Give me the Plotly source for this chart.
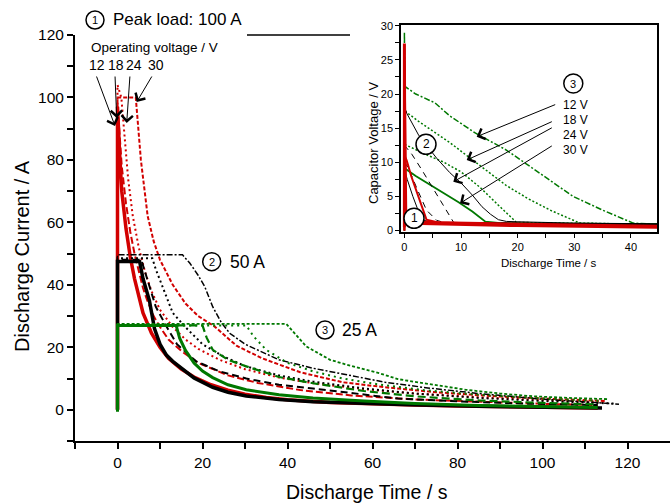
import plotly.graph_objects as go

# ---------------- main plot data (discharge current vs time) ----------------
# Peak load 100 A (red)
t_r12 = [0, 0, 0.5, 1, 2, 3, 4, 5, 6, 8, 10, 12, 15, 18, 22, 26, 30, 35, 40, 50, 60, 70, 80, 90, 100, 113]
i_r12 = [0, 97, 82, 70, 58, 49, 42, 36, 31, 24.5, 20, 16.5, 13, 10.5, 8, 6.3, 5, 3.9, 3.2, 2.3, 1.8, 1.5, 1.2, 1.0, 0.8, 0.6]
t_r18 = [0, 0, 0.5, 1, 2, 3, 4, 5, 6, 7, 8.5, 10, 12, 15.3, 19, 26, 33, 43, 55, 70, 85, 100, 113]
i_r18 = [0, 98, 88, 78, 66, 57, 50, 44, 39, 35, 30, 26.5, 22.5, 18.5, 15, 11, 8.6, 6.3, 4.6, 3.3, 2.5, 1.9, 1.5]
t_r24 = [0, 0, 0.9, 1.5, 2.5, 3.6, 5, 6.5, 8, 10, 13, 16, 19, 24, 30, 38, 46, 58, 70, 85, 100, 115]
i_r24 = [0, 104, 100, 90, 74, 62, 52, 44, 38, 32, 26.5, 22.5, 19.5, 16, 13, 10.3, 8.5, 6.6, 5.2, 4.0, 3.1, 2.5]
t_r30 = [0, 0, 4.3, 5.5, 7.1, 8.5, 10, 13, 16, 19, 22.8, 28, 34, 43, 53, 63, 75, 88, 100, 115]
i_r30 = [0, 100, 100, 80, 62, 54, 48, 40, 34, 30, 26.7, 20.5, 16.5, 12, 8.8, 7.2, 5.6, 4.4, 3.6, 2.8]

# Peak load 50 A (black)
t_b12 = [0, 0, 5.2, 6, 7.5, 8.7, 10, 11.5, 13, 14.6, 18, 22.4, 26, 30.3, 38, 46, 58, 69, 85, 100, 114]
i_b12 = [0, 47.5, 47.5, 42, 35, 26, 21, 17.5, 15.5, 13.8, 10.2, 7.2, 5.6, 4.4, 3.3, 2.6, 2.0, 1.6, 1.1, 0.8, 0.6]
t_b18 = [0, 0, 5.6, 7, 9, 11.5, 14, 18.5, 24, 30.3, 38, 46, 58, 66, 80, 95, 113]
i_b18 = [0, 48, 48, 42, 33, 26.7, 21, 15.5, 12.3, 10, 8, 6.8, 4.8, 3.6, 2.7, 2.0, 1.5]
t_b24 = [0, 0, 8.2, 9, 11, 13, 15.8, 20, 25, 30, 38, 46, 58, 70, 85, 100, 117]
i_b24 = [0, 48.5, 48.5, 45, 38, 31, 26.7, 21, 17, 14, 11, 9, 6.8, 5.2, 3.8, 2.8, 2.0]
t_b30 = [0, 0, 15.3, 17, 19, 20.5, 22.4, 24.4, 26.4, 30, 38, 46, 54, 63, 73, 85, 100, 113, 118]
i_b30 = [0, 49.6, 49.6, 47, 43, 39.5, 33, 28, 24.5, 21, 16, 13.3, 11.2, 8.8, 7, 5.2, 3.4, 2.1, 1.8]

# Peak load 25 A (green)
t_g12 = [0, 0, 13.8, 14.6, 16, 18, 20, 22.4, 26, 30.3, 38, 46, 58, 70, 85, 100, 113]
i_g12 = [-0.6, 27, 27, 23, 19, 15, 12.4, 10.3, 8, 6.4, 4.8, 3.8, 2.8, 2.0, 1.4, 1.0, 0.7]
t_g18 = [0, 0, 20, 21, 22.4, 26, 30.3, 38, 46, 58, 70, 85, 100, 113]
i_g18 = [0, 27, 27, 23, 19.2, 16, 13.9, 10.5, 8.5, 6, 4.3, 3.0, 2.2, 1.7]
t_g24 = [0, 0, 30.3, 32, 35, 40, 46, 53, 62, 72, 85, 100, 114]
i_g24 = [0, 27, 27, 23.5, 19.2, 15, 12.3, 10, 8, 6.3, 4.8, 3.6, 2.8]
t_g30 = [0, 0, 39.7, 42, 44.4, 50, 54, 61.6, 66, 73, 82, 90, 98, 106, 115.5]
i_g30 = [0, 27.5, 27.5, 24, 20.3, 16, 14.4, 11.7, 9.8, 8.3, 6.4, 5.2, 4.3, 3.8, 3.4]

# ---------------- inset data (capacitor voltage vs time) ----------------
ti_g30 = [0, 0, 0.1, 2, 5.4, 8, 12.5, 18, 24, 29.8, 35, 40.4, 45]
vi_g30 = [0, 29.1, 21.1, 20.0, 18.7, 16.8, 14.3, 11.8, 8.4, 5.0, 3.0, 1.1, 0.9]
ti_g24 = [0, 0.1, 2.5, 5.5, 8, 11, 14.5, 18, 22, 26, 31, 45]
vi_g24 = [21, 17.5, 16, 14.3, 12.9, 11, 8.8, 6.6, 4.6, 2.9, 1.1, 0.9]
ti_g18 = [0, 0.1, 4.2, 7, 10, 13.4, 16.5, 19.8, 45]
vi_g18 = [15, 12.6, 11.0, 10, 8.6, 6.3, 3.8, 1.2, 0.9]
ti_g12 = [0, 0.1, 2, 4.2, 7, 9.5, 12, 14.3, 17, 45]
vi_g12 = [12, 9.1, 8.0, 6.9, 5.5, 4.2, 2.8, 1.3, 1.1, 0.9]

ti_b30 = [0, 0, 0.4, 2.5, 5.7, 8, 10.1, 12, 13.7, 15.2, 16.6, 18, 19.8, 30, 45]
vi_b30 = [0, 18.2, 17.2, 14.0, 10.6, 8.5, 6.9, 5.2, 3.5, 2.4, 1.6, 1.35, 1.3, 1.1, 1.0]
ti_b24 = [0, 1.3, 3, 5, 7, 8.7, 10, 45]
vi_b24 = [12.5, 11.2, 9, 6.2, 3.4, 1.2, 1.1, 0.9]
ti_b18 = [0, 0.7, 2.3, 3.9, 5.7, 7, 45]
vi_b18 = [10, 9.2, 6, 3, 1.5, 1.2, 0.9]
ti_b12 = [0, 0.5, 1.5, 2.5, 3.5, 5, 45]
vi_b12 = [9, 7.5, 5, 2.8, 1.5, 1.2, 0.9]

ti_r24 = [0, 0, 0.3, 3, 20, 45]
vi_r24 = [0, 24, 1.5, 1.0, 0.7, 0.45]
ti_r18 = [0, 0.4, 1.2, 2.2, 3.0, 3.9, 6, 15, 30, 45]
vi_r18 = [11, 10.3, 8, 5.6, 3.5, 1.6, 1.2, 1.0, 0.8, 0.6]
ti_r12 = [0, 0, 0.1, 0.5, 2, 6, 15, 25, 35, 45]
vi_r12 = [0.5, 27.4, 2.0, 1.4, 1.25, 1.15, 1.0, 0.85, 0.75, 0.65]

main_xticks = [-10, 0, 10, 20, 30, 40, 50, 60, 70, 80, 90, 100, 110, 120]
main_yticks = [-10, 0, 10, 20, 30, 40, 50, 60, 70, 80, 90, 100, 110, 120]
inset_xticks = [0, 5, 10, 15, 20, 25, 30, 35, 40]
inset_yticks = [0, 2.5, 5, 7.5, 10, 12.5, 15, 17.5, 20, 22.5, 25, 27.5, 30]

RED = "#D20000"
BLACK = "#000000"
GREEN = "#007800"
FONT = "Liberation Sans, Arial, sans-serif"

fig = go.Figure()

def add(x, y, color, width, dash, xa="x", ya="y"):
    fig.add_trace(go.Scatter(x=x, y=y, mode="lines", xaxis=xa, yaxis=ya,
                             line=dict(color=color, width=width, dash=dash),
                             hoverinfo="skip", showlegend=False))

# main: red, then black, then green
add(t_r30, i_r30, RED, 2, "4px,2px")
add(t_r24, i_r24, RED, 2, "2px,3px")
add(t_r18, i_r18, RED, 2, "7px,3px")
add(t_r12, i_r12, RED, 3.5, "solid")
add(t_b30, i_b30, BLACK, 1.5, "6px,2px,2px,2px")
add(t_b24, i_b24, BLACK, 2, "2px,3px")
add(t_b18, i_b18, BLACK, 2, "7px,4px")
add(t_b12, i_b12, BLACK, 3.5, "solid")
add(t_g30, i_g30, GREEN, 1.8, "3px,2px")
add(t_g24, i_g24, GREEN, 2, "2px,4px")
add(t_g18, i_g18, GREEN, 2.2, "8px,4px")
add(t_g12, i_g12, GREEN, 3, "solid")

# inset
add(ti_g30, vi_g30, GREEN, 1.5, "6px,2px,2px,2px", "x2", "y2")
add(ti_g24, vi_g24, GREEN, 1.5, "2px,2px", "x2", "y2")
add(ti_g18, vi_g18, GREEN, 1.5, "2px,2px", "x2", "y2")
add(ti_g12, vi_g12, GREEN, 1.8, "solid", "x2", "y2")
add(ti_b30, vi_b30, BLACK, 1, "solid", "x2", "y2")
add(ti_b24, vi_b24, BLACK, 1, "6px,5px", "x2", "y2")
add(ti_b18, vi_b18, BLACK, 1, "6px,5px", "x2", "y2")
add(ti_b12, vi_b12, BLACK, 1, "solid", "x2", "y2")
add(ti_r24, vi_r24, RED, 2.5, "solid", "x2", "y2")
add(ti_r18, vi_r18, RED, 2, "solid", "x2", "y2")
add(ti_r12, vi_r12, RED, 3, "solid", "x2", "y2")

# pixel -> paper helpers for decorations
L, T, W, H = 75, 25, 595, 416
def px(v):
    return (v - L) / W
def py(v):
    return (T + H - v) / H

shapes = []
annotations = []

def circle(cx, cy, r, num, size=12):
    shapes.append(dict(type="circle", xref="paper", yref="paper",
                       xsizemode="pixel", ysizemode="pixel",
                       xanchor=px(cx), yanchor=py(cy),
                       x0=-r, x1=r, y0=-r, y1=r,
                       line=dict(color="black", width=1.5), fillcolor="white"))
    annotations.append(dict(x=px(cx), y=py(cy), xref="paper", yref="paper",
                            text=num, showarrow=False, xanchor="center", yanchor="middle",
                            font=dict(family=FONT, size=size, color="black")))

def text(cx, cy, s, size, xanchor="center", angle=0):
    annotations.append(dict(x=px(cx), y=py(cy), xref="paper", yref="paper",
                            text=s, showarrow=False, xanchor=xanchor, yanchor="middle",
                            textangle=angle,
                            font=dict(family=FONT, size=size, color="black")))

def arrow(x0, y0, x1, y1):
    annotations.append(dict(x=px(x1), y=py(y1), xref="paper", yref="paper",
                            ax=x0 - x1, ay=y0 - y1, text="", showarrow=True,
                            arrowhead=4, arrowsize=2.2, arrowwidth=1,
                            arrowcolor="black", standoff=0, startstandoff=0))

# top frame fragment
shapes.append(dict(type="line", xref="paper", yref="paper",
                   x0=px(247), x1=px(350), y0=py(35), y1=py(35),
                   line=dict(color="black", width=1.5)))

# main annotations
circle(95, 20, 9, "1", 11)
text(111, 20, "Peak load: 100 A", 17, xanchor="left")
text(89, 47, "Operating voltage / V", 13.5, xanchor="left")
for cx, lab in [(96.5, "12"), (116, "18"), (133.5, "24"), (156, "30")]:
    text(cx, 65, lab, 14)
arrow(96, 75, 115, 126)
arrow(115, 75, 116.7, 118)
arrow(130, 75, 126.7, 123)
arrow(152.7, 75, 136.7, 102)
circle(211.7, 261.7, 9, "2", 11)
text(228, 262, "50 A", 17.5, xanchor="left")
circle(325, 330, 9, "3", 11)
text(340, 330, "25 A", 17.5, xanchor="left")

# inset annotations
circle(573.3, 83.5, 9.5, "3", 11)
for cy, lab in [(104.5, "12 V"), (119.5, "18 V"), (134.5, "24 V"), (149.5, "30 V")]:
    text(575.5, cy, lab, 12)
arrow(556.7, 104, 476.7, 136.7)
arrow(553.3, 121, 466.7, 160)
arrow(553.3, 127, 453.3, 181.7)
arrow(553.3, 145, 460, 203.3)
circle(426, 144.3, 10, "2", 12)
circle(414, 218.3, 10, "1", 12)

# axis titles
text(367, 492, "Discharge Time / s", 19.5)
text(22, 256, "Discharge Current / A", 20, angle=-90)
text(548, 263, "Discharge Time / s", 11.5)
text(373, 143, "Capacitor Voltage / V", 13, angle=-90)

fig.update_layout(
    width=670, height=504,
    margin=dict(l=L, r=0, t=T, b=504 - T - H, pad=0),
    paper_bgcolor="white", plot_bgcolor="white",
    showlegend=False,
    shapes=shapes, annotations=annotations,
    xaxis=dict(domain=[0, 1], range=[-10, 130], showline=True, linecolor="black",
               linewidth=2, ticks="outside", ticklen=6, tickwidth=1.5, tickcolor="black",
               tickmode="array", tickvals=main_xticks,
               ticktext=[str(v) if v % 20 == 0 and v >= 0 else "" for v in main_xticks],
               tickfont=dict(family=FONT, size=15.5, color="black"),
               showgrid=False, zeroline=False, anchor="y"),
    yaxis=dict(domain=[0, 406 / 416], range=[-10, 120], showline=True, linecolor="black",
               linewidth=2, ticks="outside", ticklen=6, tickwidth=1.5, tickcolor="black",
               tickmode="array", tickvals=main_yticks,
               ticktext=[str(v) if v % 20 == 0 and v >= 0 else "" for v in main_yticks],
               tickfont=dict(family=FONT, size=15.5, color="black"),
               showgrid=False, zeroline=False, anchor="x"),
    xaxis2=dict(domain=[px(401), px(657)], range=[-0.6, 44.6], anchor="y2",
                showline=True, mirror=True, linecolor="black", linewidth=1.5,
                ticks="outside", ticklen=4, tickwidth=1, tickcolor="black",
                tickmode="array", tickvals=inset_xticks,
                ticktext=[str(v) if v % 10 == 0 else "" for v in inset_xticks],
                tickfont=dict(family=FONT, size=11, color="black"),
                showgrid=False, zeroline=False),
    yaxis2=dict(domain=[py(232), 1], range=[-0.2, 30.1], anchor="x2",
                showline=True, mirror=True, linecolor="black", linewidth=1.5,
                ticks="outside", ticklen=4, tickwidth=1, tickcolor="black",
                tickmode="array", tickvals=inset_yticks,
                ticktext=[str(int(v)) if v % 5 == 0 else "" for v in inset_yticks],
                tickfont=dict(family=FONT, size=11, color="black"),
                showgrid=False, zeroline=False),
)

fig.write_html("out.html", config={"displayModeBar": False},
               post_script="document.body.style.margin='0px';")
